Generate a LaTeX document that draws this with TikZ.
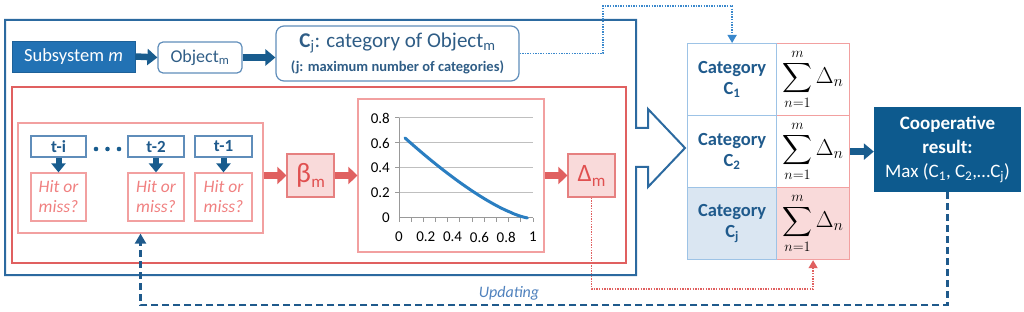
\RequirePackage{fix-cm}
\documentclass[tikz,border=0pt]{standalone}
\usepackage{amsmath}
\usepackage{fontspec}
\setmainfont{Carlito}
\usetikzlibrary{arrows.meta,calc}
\definecolor{subfill}{HTML}{2272B4}
\definecolor{coopfill}{HTML}{0D5A8E}
\definecolor{arrowblue}{HTML}{185C8E}
\definecolor{frameblue}{HTML}{2C6AA0}
\definecolor{steel}{HTML}{5F8DBA}
\definecolor{txtblue}{HTML}{1F5A8C}
\definecolor{objtxt}{HTML}{2F5D86}
\definecolor{lightblue}{HTML}{9DC3E6}
\definecolor{lbfill}{HTML}{DAE6F2}
\definecolor{redframe}{HTML}{E06060}
\definecolor{lightred}{HTML}{F2A0A0}
\definecolor{pinkfill}{HTML}{F9DADA}
\definecolor{redtxt}{HTML}{E05050}
\definecolor{hittxt}{HTML}{F08080}
\definecolor{curveblue}{HTML}{2A7EC1}
\definecolor{dotblue}{HTML}{3A88CC}
\definecolor{gridgray}{HTML}{BFBFBF}
\definecolor{updtxt}{HTML}{4F81BD}
\newcommand{\sumdelta}{$\displaystyle\sum_{n=1}^{m}\scalebox{1.12}{$\Delta_n$}$}
\begin{document}
\begin{tikzpicture}[x=1pt,y=-1pt,
  bluearrow/.style={line width=6.5pt, draw=arrowblue, -{Triangle[length=10pt,width=16pt]}},
  downarrow/.style={line width=6pt, draw=arrowblue, -{Triangle[length=9pt,width=14pt]}},
  redarrow/.style={line width=7pt, draw=redframe, -{Triangle[length=9pt,width=17pt]}},
  plainbox/.style={inner sep=0pt, align=center},
  tbox/.style={plainbox, draw=steel, line width=1.2pt, minimum height=21pt, text=txtblue,
    font=\fontsize{17}{20}\selectfont\bfseries},
  hitbox/.style={plainbox, draw=lightred, line width=1.2pt, minimum height=48pt, text=hittxt,
    font=\fontsize{17.5}{20}\selectfont\itshape},
  greekbox/.style={plainbox, draw=redframe!80, fill=pinkfill, line width=1.2pt,
    minimum width=47pt, minimum height=43pt, text=redtxt},
  catcell/.style={plainbox, draw=lightblue, line width=1.2pt, minimum width=89pt,
    minimum height=72pt, anchor=north west, text=txtblue,
    font=\fontsize{18.5}{21}\selectfont\bfseries},
  sumcell/.style={plainbox, draw=lightred, line width=1.2pt, minimum width=73pt,
    minimum height=72pt, anchor=north west, font=\fontsize{20.5}{24}\selectfont},
  axlabel/.style={inner sep=0pt, font=\fontsize{15}{17}\selectfont},
  dotconn/.style={line width=1.4pt, dash pattern=on 1.4pt off 1.2pt},
]
\useasboundingbox (0,0) rectangle (1024,312);

% outer blue frame with the big outline arrow
\draw[frameblue, line width=2pt, line join=miter]
  (5,20) -- (636,20) -- (636,128) -- (648,128) -- (648,109) -- (685,148)
  -- (648,187) -- (648,167) -- (636,167) -- (636,275) -- (5,275) -- cycle;
% red frame
\draw[redframe, line width=2pt] (12,87) rectangle (626,263);

% top row
\node[plainbox, fill=subfill, draw=subfill!85!black, line width=0.8pt,
  minimum width=123pt, minimum height=31pt, text=white,
  font=\fontsize{18.5}{21}\selectfont] (sub) at (73.5,56.5) {Subsystem \textit{m}};
\node[plainbox, draw=steel, line width=1.2pt, rounded corners=5pt,
  minimum width=84pt, minimum height=31pt, text=objtxt,
  font=\fontsize{18}{21}\selectfont] (obj) at (200,57.5) {Object\textsubscript{m}};
\node[plainbox, draw=steel, line width=1.2pt, rounded corners=8pt,
  minimum width=243pt, minimum height=55pt, text=objtxt,
  font=\fontsize{21}{25}\selectfont] (cj) at (397.5,53.5)
  {\textbf{C}\textsubscript{j}: category of Object\textsubscript{m}\\[-1pt]
   {\fontsize{14.5}{16}\selectfont\bfseries (j: maximum number of categories)}};
\draw[bluearrow] (sub.east) -- (obj.west);
\draw[bluearrow] (obj.east) -- (obj.east -| cj.west);

% hit or miss group
\node[plainbox, draw=lightred, line width=1.2pt, minimum width=245pt, minimum height=110pt]
  (hitframe) at (140.5,178) {};
\node[tbox, minimum width=55pt] (ti) at (58.5,146.5) {t-i};
\node[tbox, minimum width=56pt] (t2) at (156,146.5) {t-2};
\node[tbox, minimum width=57pt] (t1) at (223.5,146.5) {t-1};
\node[hitbox, minimum width=55pt] (hi) at (58.5,197) {Hit or\\miss?};
\node[hitbox, minimum width=56pt] (h2) at (156,197) {Hit or\\miss?};
\node[hitbox, minimum width=57pt] (h1) at (223.5,197) {Hit or\\miss?};
\draw[downarrow] (ti.south) -- (hi.north);
\draw[downarrow] (t2.south) -- (h2.north);
\draw[downarrow] (t1.south) -- (h1.north);
\fill[arrowblue] (96,149) circle (2.3) (107.5,149) circle (2.3) (119,149) circle (2.3);

% beta, chart, delta
\node[greekbox] (beta) at (310.5,175.5)
  {\fontsize{28}{30}\selectfont β\kern0.5pt\raisebox{-5pt}{\fontsize{17}{18}\selectfont m}};
\node[plainbox, draw=lightred, line width=1.2pt, minimum width=186pt, minimum height=153pt]
  (chart) at (451,175.5) {};
\node[greekbox] (delta) at (591.5,175.5)
  {\fontsize{25}{28}\selectfont Δ\raisebox{-5pt}{\fontsize{17}{18}\selectfont m}};
\draw[redarrow] (beta.west -| hitframe.east) -- (beta.west);
\draw[redarrow] (beta.east) -- (chart.west |- beta.east);
\draw[redarrow] (chart.east |- delta.west) -- (delta.west);

% chart contents
\foreach \v in {0.2,0.4,0.6,0.8}
  \draw[gridgray, line width=1pt] (399,{218-125*\v}) -- (533,{218-125*\v});
\foreach \v/\lab in {0/0,0.2/0.2,0.4/0.4,0.6/0.6,0.8/0.8}
  \node[axlabel, anchor=east] at (390,{218-125*\v}) {\lab};
\draw[gridgray!80!black, line width=1pt] (399,118) -- (399,218);
\foreach \v in {0.2,0.4,0.6,0.8} \draw[gridgray!80!black, line width=1pt] (395,{218-125*\v}) -- (399,{218-125*\v});
\draw[gridgray!80!black, line width=1pt] (399,218) -- (533,218);
\foreach \k in {0,...,11} \draw[gridgray!80!black, line width=1pt] ({399+134*\k/11},218) -- ({399+134*\k/11},222);
\foreach \v/\lab in {0/0,0.2/0.2,0.4/0.4,0.6/0.6,0.8/0.8,1/1}
  \node[axlabel] at ({399+134*\v},237) {\lab};
\draw[curveblue, line width=3pt, line cap=round, domain=0.045:0.958, samples=60, smooth]
  plot ({399+134*\x},{218-125*0.718*(0.965-\x)^1.378});

% table
\node[sumcell] (s1) at (776,43) {\sumdelta};
\node[sumcell] (s2) at (776,115) {\sumdelta};
\node[sumcell, fill=pinkfill] (s3) at (776,187) {\sumdelta};
\node[catcell] (c1) at (687,43) {Category\\C\textsubscript{1}};
\node[catcell] (c2) at (687,115) {Category\\C\textsubscript{2}};
\node[catcell, fill=lbfill] (c3) at (687,187) {Category\\C\textsubscript{j}};

% cooperative result
\node[plainbox, fill=coopfill, minimum width=147pt, minimum height=85pt, text=white,
  font=\fontsize{19}{24}\selectfont] (coop) at (947.5,149.5)
  {\textbf{Cooperative}\\\textbf{result:}\\Max (C\textsubscript{1}, C\textsubscript{2},…C\textsubscript{j})};
\draw[bluearrow] (s2.east) -- (s2.east -| coop.west);

% connectors
\coordinate (dA) at (603,6);
\draw[dotblue, dotconn, -{Triangle[length=8pt,width=9pt]}] (cj.east) -| (dA) -| (c1.north);
\coordinate (rA) at (700,289);
\draw[redframe, dotconn, -{Triangle[length=8pt,width=9pt]}] (delta.south) |- (rA) -| (s3.south);
\coordinate (bA) at (500,305);
\draw[txtblue, line width=2.2pt, dash pattern=on 7pt off 4pt, -{Triangle[length=10pt,width=11pt]}]
  (coop.south) |- (bA) -| (hitframe.south);
\node[inner sep=0pt, text=updtxt, font=\fontsize{16}{18}\selectfont\itshape] (upd) at (509,293) {Updating};
\end{tikzpicture}
\end{document}
